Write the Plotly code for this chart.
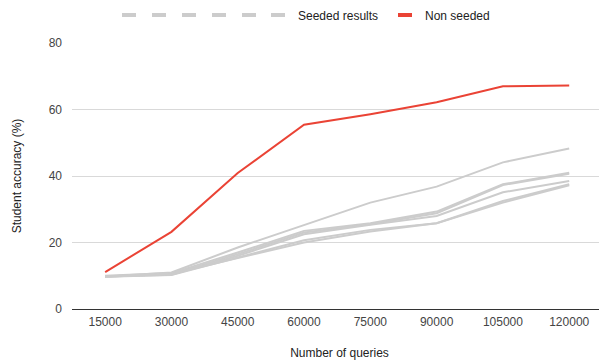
import plotly.graph_objects as go

queries = ["15000", "30000", "45000", "60000", "75000", "90000", "105000", "120000"]

seeded_1 = [9.8, 11.0, 18.5, 25.3, 32.0, 36.8, 44.1, 48.3]
seeded_2 = [10.0, 10.8, 17.0, 23.5, 25.8, 29.3, 37.5, 41.0]
seeded_3 = [9.7, 10.5, 16.5, 23.0, 25.5, 28.8, 37.3, 40.7]
seeded_4 = [9.8, 10.3, 16.0, 22.5, 25.3, 28.0, 35.1, 38.5]
seeded_5 = [9.7, 10.2, 15.5, 20.7, 23.8, 25.8, 32.5, 37.5]
seeded_6 = [9.8, 10.5, 15.3, 20.0, 23.3, 25.8, 32.0, 37.2]
non_seeded = [11.1, 23.2, 40.9, 55.4, 58.6, 62.2, 67.0, 67.2]

seeded_series = [seeded_1, seeded_2, seeded_3, seeded_4, seeded_5, seeded_6]
seeded_names = ["", "", "", "", "", "Seeded results"]

GRAY = "#cccccc"
RED = "#ea4335"

# page body has an 8px margin, so the figure is laid out 8px smaller
W, H = 599, 356

fig = go.Figure()
for vals in seeded_series:
    fig.add_trace(go.Scatter(x=queries, y=vals, mode="lines", showlegend=False,
                             line=dict(color=GRAY, width=2)))
fig.add_trace(go.Scatter(x=queries, y=non_seeded, mode="lines", showlegend=False,
                         line=dict(color=RED, width=2)))

# legend entries: one small legend per entry so they can be spaced like the original
legend_names = seeded_names + ["Non seeded"]
legend_colors = [GRAY] * 6 + [RED]
legend_centers = [129, 159, 189, 219, 249, 278, 405]  # dash centres (screen px)

legend_layout = {}
for i, (name, col, cx) in enumerate(zip(legend_names, legend_colors, legend_centers)):
    key = "legend" if i == 0 else f"legend{i + 1}"
    fig.add_trace(go.Scatter(x=[None], y=[None], mode="markers", name=name,
                             legend=key,
                             marker=dict(symbol="line-ew", size=10,
                                         line=dict(color=col, width=4))))
    legend_layout[key] = dict(orientation="h", xref="container", yref="container",
                              x=(cx - 20 - 8) / W, xanchor="left",
                              y=1 - 7 / H, yanchor="middle",
                              itemwidth=30, font=dict(size=12, color="#222222"),
                              bgcolor="rgba(0,0,0,0)", borderwidth=0)

fig.update_layout(
    width=W, height=H,
    margin=dict(l=64, r=0, t=35, b=55, autoexpand=False),
    paper_bgcolor="white", plot_bgcolor="white",
    font=dict(family="Liberation Sans, Arial, sans-serif", size=12, color="#444444"),
    xaxis=dict(type="category", range=[-0.5, 7.57], showgrid=False,
               showline=True, linecolor="#333333", linewidth=1, ticks="",
               ticklabelstandoff=2,
               title=dict(text="Number of queries", font=dict(size=12, color="#222222"), standoff=20),
               tickfont=dict(size=12, color="#444444")),
    yaxis=dict(range=[0, 80], dtick=20, showgrid=True, gridcolor="#d9d9d9",
               zeroline=False, ticks="", showline=False, ticklabelstandoff=9,
               title=dict(text="Student accuracy (%)", font=dict(size=12, color="#222222"), standoff=24),
               tickfont=dict(size=12, color="#444444")),
    **legend_layout,
)

fig.write_html("out.html")
